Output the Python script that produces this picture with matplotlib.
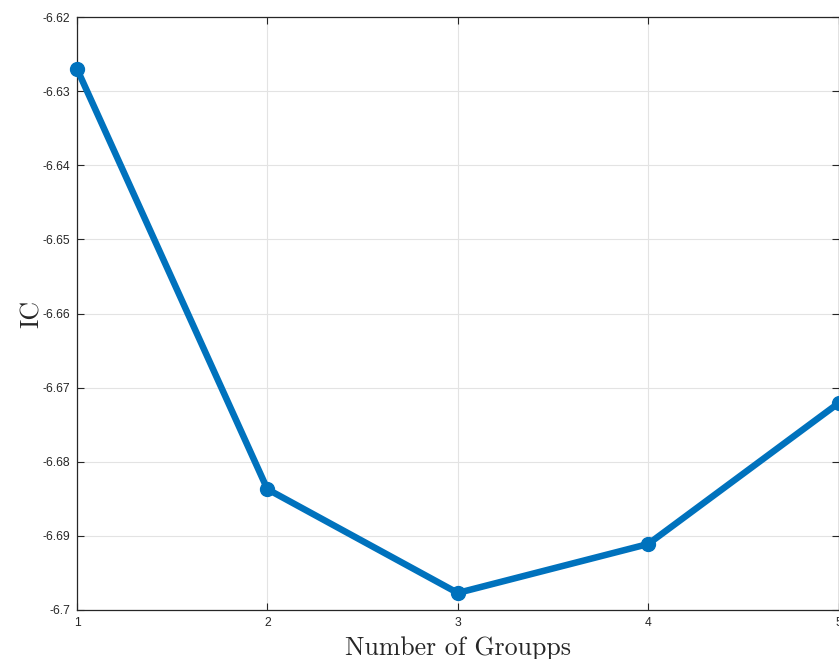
import matplotlib
matplotlib.use("Agg")
import matplotlib.pyplot as plt
from matplotlib.ticker import FuncFormatter

# information criterion for each number of groups
groups = [1, 2, 3, 4, 5]
ic_values = [-6.6270, -6.6837, -6.6977, -6.6911, -6.6721]
y_ticks = [-6.70, -6.69, -6.68, -6.67, -6.66, -6.65, -6.64, -6.63, -6.62]

line_color = "#0072BD"
axis_color = "#262626"

fig = plt.figure(figsize=(8.39, 6.59), dpi=100)
ax = fig.add_axes([77 / 839, 1 - 610 / 659, 761.5 / 839, 593 / 659])

ax.plot(groups, ic_values, "-o", color=line_color, linewidth=4.7,
        markersize=10, clip_on=False, zorder=3)

ax.set_xlim(1, 5)
ax.set_ylim(-6.70, -6.62)
ax.set_xticks(groups)
ax.set_yticks(y_ticks)
ax.yaxis.set_major_formatter(FuncFormatter(lambda v, pos: f"{round(v, 2):g}"))

ax.grid(True, color="#e3e3e3", linewidth=0.8)
ax.set_axisbelow(True)
ax.tick_params(direction="in", length=5, width=0.8, colors=axis_color,
               labelsize=8.7, top=True, right=True, pad=5)
for lab in ax.get_xticklabels() + ax.get_yticklabels():
    lab.set_fontfamily("Liberation Sans")
for sp in ax.spines.values():
    sp.set_color(axis_color)
    sp.set_linewidth(0.9)

ax.set_xlabel("Number of Groupps", fontfamily="cmr10", fontsize=18.6,
              color=axis_color, labelpad=5)
ax.set_ylabel("IC", fontfamily="cmr10", fontsize=18.6, color=axis_color,
              labelpad=-1)

fig.savefig("out.png", dpi=100)
